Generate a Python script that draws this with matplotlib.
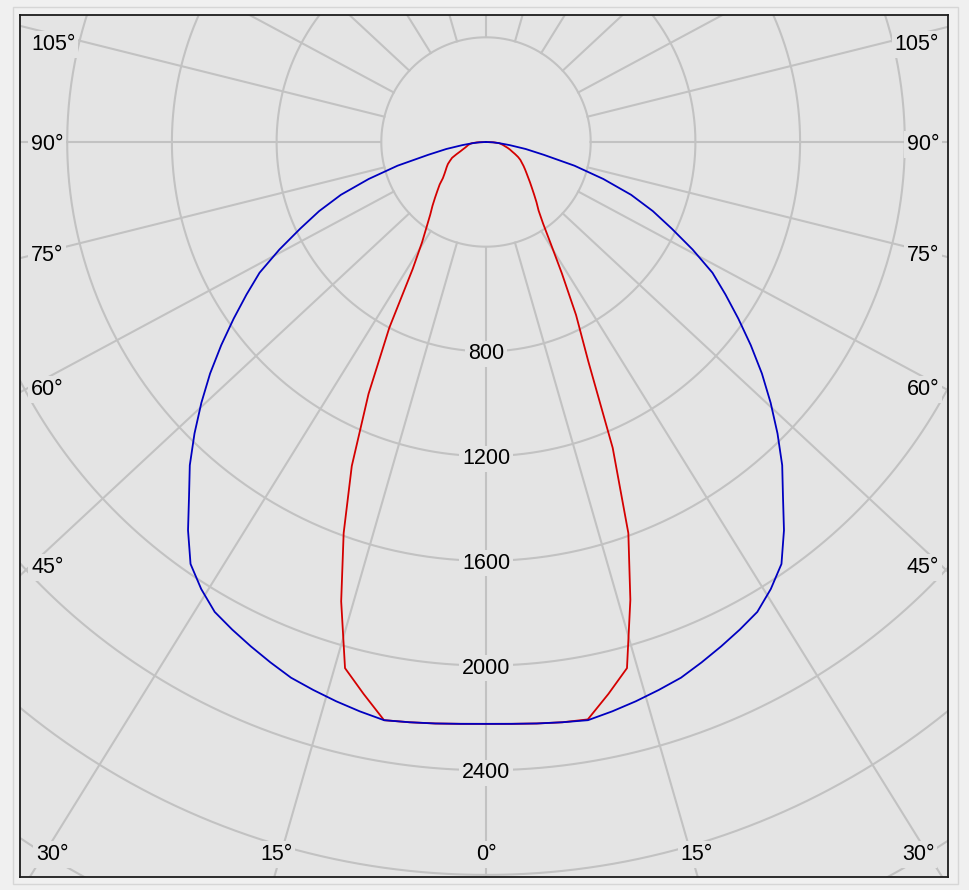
import numpy as np
import matplotlib
matplotlib.use("Agg")
import matplotlib.pyplot as plt
from matplotlib.patches import Rectangle

# gamma angle (deg from nadir) and intensity (cd)
angles = [0, 2.5, 5, 7.5, 10, 12.5, 15, 17.5, 20, 22.5, 25, 27.5, 30, 32.5,
          35, 37.5, 40, 42.5, 45, 47.5, 50, 52.5, 55, 57.5, 60, 62.5, 65,
          67.5, 70, 72.5, 75, 77.5, 80, 82.5, 85, 87.5, 90]
blue_cd = [2223, 2225, 2230, 2236, 2243, 2228, 2212, 2195, 2178, 2152, 2126,
           2100, 2073, 2025, 1968, 1870, 1765, 1675, 1575, 1475, 1376, 1275,
           1177, 1085, 999, 890, 783, 690, 590, 470, 350, 226, 154, 91, 50,
           25, 0]
red_left_cd = [2223, 2225, 2230, 2236, 2243, 2160, 2081, 1840, 1590, 1340,
               1062, 800, 560, 455, 395, 350, 318, 288, 262, 240, 215, 200,
               188, 178, 168, 155, 143, 122, 104, 92, 82, 75, 70, 63, 55, 35, 0]
red_right_cd = [2223, 2225, 2230, 2236, 2240, 2160, 2081, 1834, 1590, 1265,
                925, 745, 580, 460, 380, 330, 300, 272, 248, 228, 210, 195,
                182, 170, 158, 148, 135, 120, 106, 96, 85, 74, 66, 58, 50, 30, 0]

ring_values = [400, 800, 1200, 1600, 2000, 2400, 2800, 3200]
ring_labels = ["800", "1200", "1600", "2000", "2400"]
spoke_angles = list(range(0, 360, 15))
left_labels = ["105°", "90°", "75°", "60°", "45°"]
bottom_labels = ["30°", "15°", "0°", "15°", "30°"]

# layout (pixels of the 969x890 picture)
W, H = 969, 890
cx, cy = 486, 142
scale = 104.7 / 400  # px per cd
fl, fr, ft, fb = 20, 948, 15, 877
side_y = [42, 142, 253, 387, 565]
bottom_x = [52, 276, 486, 697, 918]
text_dy = 2.5  # nudge labels down a little
stretch = 1.075  # spokes are drawn slightly widened in the original

bg = "#e4e4e4"
grid_c = "#c2c2c2"


def px(x, y):
    return (x - cx) / scale, (cy - y - text_dy) / scale


plt.rcParams['font.family'] = ['Liberation Sans', 'DejaVu Sans']
fig = plt.figure(figsize=(W / 100, H / 100), dpi=100)
fig.patch.set_facecolor("#f0f0f0")
fig.add_artist(Rectangle((13 / W, 1 - 884 / H), 945 / W, 877 / H,
                         transform=fig.transFigure, fill=False,
                         ec="#d6d6d6", lw=1))

ax = fig.add_axes([fl / W, 1 - fb / H, (fr - fl) / W, (fb - ft) / H])
ax.set_facecolor(bg)
ax.set_xlim((fl - cx) / scale, (fr - cx) / scale)
ax.set_ylim((cy - fb) / scale, (cy - ft) / scale)
ax.set_xticks([])
ax.set_yticks([])
for sp in ax.spines.values():
    sp.set_color("#1c1c1c")
    sp.set_linewidth(1.3)

# rings
t = np.linspace(0, 2 * np.pi, 721)
for r in ring_values:
    ax.plot(r * np.cos(t), r * np.sin(t), color=grid_c, lw=1.5, zorder=1)

# spokes, starting at the inner ring
for a in spoke_angles:
    ar = np.radians(a)
    d = np.array([stretch * np.sin(ar), -np.cos(ar)])
    d = d / np.hypot(*d)
    ax.plot([400 * d[0], 6000 * d[0]], [400 * d[1], 6000 * d[1]],
            color=grid_c, lw=1.5, zorder=1)

# curves
g = np.radians(np.array(angles))
b = np.array(blue_cd)
rl = np.array(red_left_cd)
rr = np.array(red_right_cd)

red_x = np.concatenate([-(rl * np.sin(g))[::-1], (rr * np.sin(g))[1:]])
red_y = np.concatenate([-(rl * np.cos(g))[::-1], -(rr * np.cos(g))[1:]])
blue_x = np.concatenate([-(b * np.sin(g))[::-1], (b * np.sin(g))[1:]])
blue_y = np.concatenate([-(b * np.cos(g))[::-1], -(b * np.cos(g))[1:]])

ax.plot(red_x, red_y, color="#d40000", lw=1.3, zorder=2)
ax.plot(blue_x, blue_y, color="#0000c0", lw=1.3, zorder=2.1)

box = dict(boxstyle="square,pad=0.12", fc=bg, ec="none")
fs = 15.5

for lab in ring_labels:
    ax.text(0, -float(lab) - text_dy / scale, lab, ha="center", va="center",
            fontsize=fs, color="black", bbox=box, zorder=3)

for lab, y in zip(left_labels, side_y):
    ax.text(*px(31, y), lab, ha="left", va="center", fontsize=fs,
            bbox=box, zorder=3)
    ax.text(*px(939, y), lab, ha="right", va="center", fontsize=fs,
            bbox=box, zorder=3)

for lab, x in zip(bottom_labels, bottom_x):
    ax.text(*px(x, 852), lab, ha="center", va="center", fontsize=fs,
            bbox=box, zorder=3)

fig.savefig("out.png", dpi=100, facecolor=fig.get_facecolor())
